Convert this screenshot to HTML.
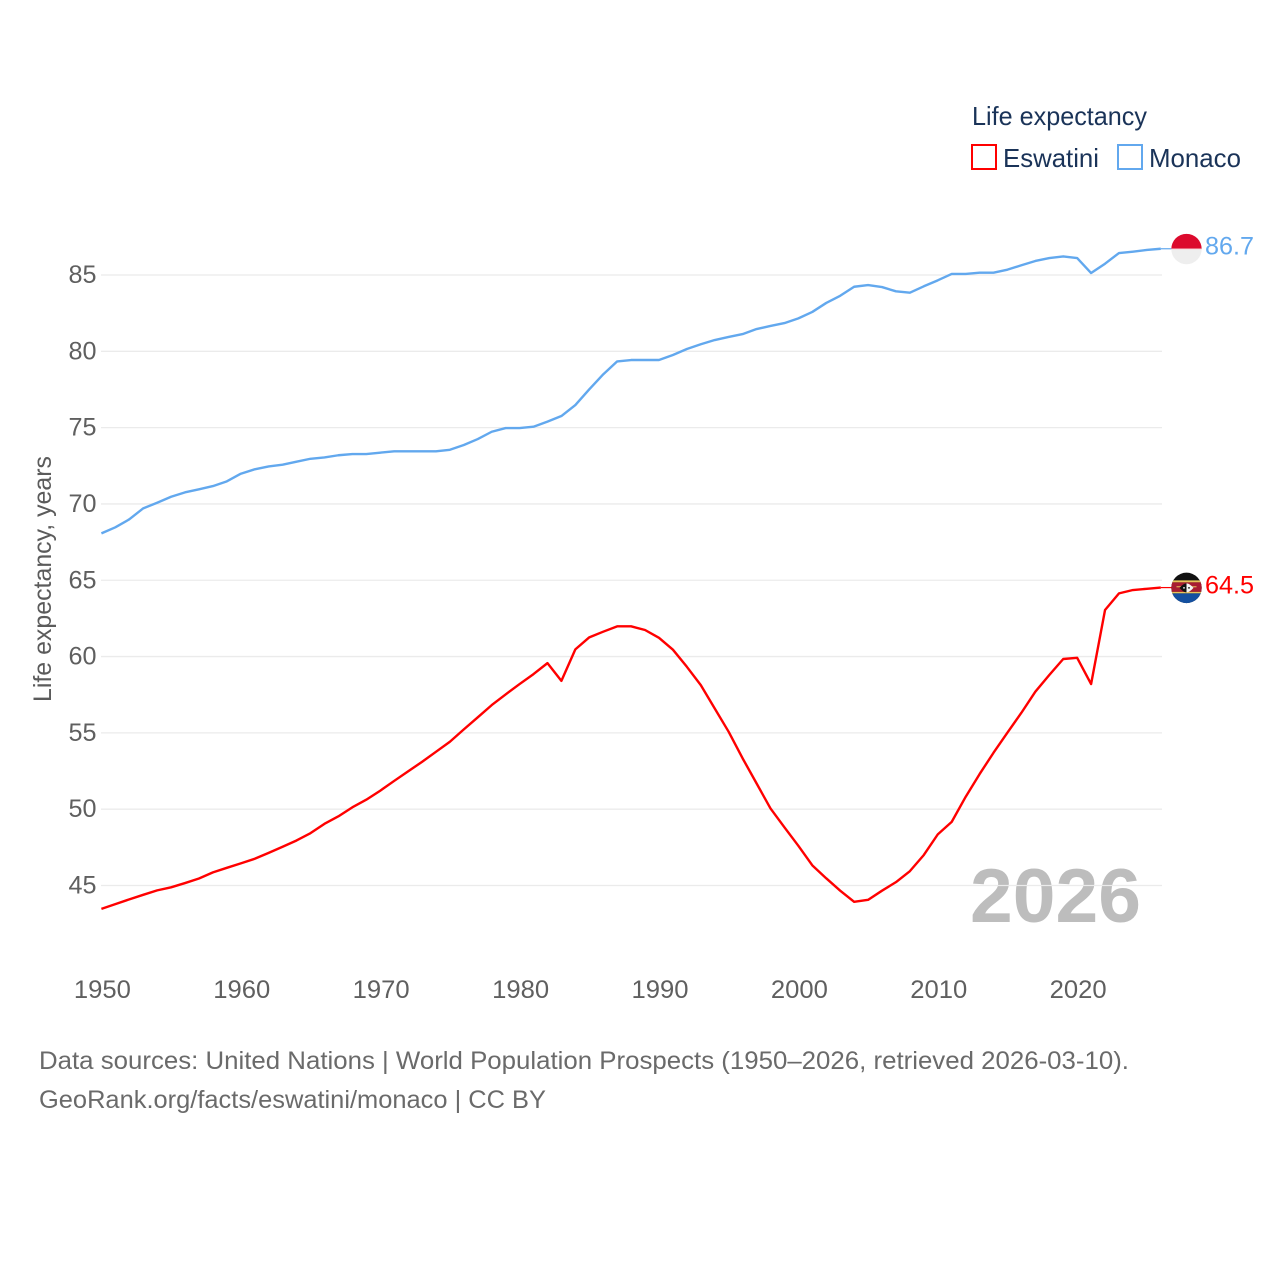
<!DOCTYPE html>
<html lang="en">
<head>
<meta charset="utf-8">
<title>Life expectancy: Eswatini and Monaco</title>
<style>
  html, body { margin: 0; padding: 0; background: #fff; }
  svg { display: block; font-family: "Liberation Sans", sans-serif; }
</style>
</head>
<body>
<svg id="chart" xmlns="http://www.w3.org/2000/svg" width="1280" height="1280" viewBox="0 0 1280 1280">
  <defs>
    <clipPath id="flag-clip"><circle cx="0" cy="0" r="15.2"></circle></clipPath>
  </defs>
  <rect x="0" y="0" width="1280" height="1280" fill="#ffffff"></rect>

  <text x="970" y="922" font-size="76" font-weight="700" fill="#bdbdbd" textLength="171" lengthAdjust="spacingAndGlyphs">2026</text>

  <g id="grid"></g>
  <g id="y-ticks"></g>
  <g id="x-ticks"></g>

  <text transform="translate(51,702) rotate(-90)" font-size="25" fill="#5b5b5b" textLength="246" lengthAdjust="spacingAndGlyphs">Life expectancy, years</text>

  <g id="series"></g>

  <g id="flag-monaco" clip-path="url(#flag-clip)">
    <rect x="-16" y="-16" width="32" height="16" fill="#dc0a2d"></rect>
    <rect x="-16" y="0" width="32" height="16" fill="#eeeeee"></rect>
    <rect x="-16" y="-0.5" width="32" height="1" fill="#f7d9dd"></rect>
  </g>
  <g id="flag-eswatini" clip-path="url(#flag-clip)">
    <rect x="-16" y="-16" width="32" height="32" fill="#111111"></rect>
    <rect x="-16" y="-7.5" width="32" height="2" fill="#e8c458"></rect>
    <rect x="-16" y="-5.5" width="32" height="9.5" fill="#a81c32"></rect>
    <rect x="-16" y="4" width="32" height="1.5" fill="#e8c458"></rect>
    <rect x="-16" y="5.5" width="32" height="11" fill="#1450a0"></rect>
    <rect x="-10" y="-1.6" width="20" height="1" fill="#e8c458"></rect>
    <path d="M-7 0 Q-3 -4.5 0 -4.5 L0 4.5 Q-3 4.5 -7 0 Z" fill="#111111"></path>
    <path d="M7 0 Q3 -4.5 0 -4.5 L0 4.5 Q3 4.5 7 0 Z" fill="#f4f4f4"></path>
    <circle cx="-2.5" cy="0" r="0.9" fill="#f4f4f4"></circle>
    <circle cx="2.5" cy="0" r="0.9" fill="#111111"></circle>
  </g>

  <text id="label-monaco" x="1205" font-size="25" fill="#62a8ee" textLength="49" lengthAdjust="spacingAndGlyphs"></text>
  <text id="label-eswatini" x="1205" font-size="25" fill="#ff0000" textLength="49" lengthAdjust="spacingAndGlyphs"></text>

  <g>
    <text x="972" y="125" font-size="26" fill="#1a3358" textLength="175" lengthAdjust="spacingAndGlyphs">Life expectancy</text>
    <g>
      <rect x="972" y="145" width="24" height="24" fill="#ffffff" stroke="#ff0000" stroke-width="2"></rect>
      <text x="1003" y="167" font-size="26" fill="#1a3358" textLength="96" lengthAdjust="spacingAndGlyphs">Eswatini</text>
    </g>
    <g>
      <rect x="1118" y="145" width="24" height="24" fill="#ffffff" stroke="#62a8ee" stroke-width="2"></rect>
      <text x="1149" y="167" font-size="26" fill="#1a3358" textLength="92" lengthAdjust="spacingAndGlyphs">Monaco</text>
    </g>
  </g>

  <g>
    <text x="39" y="1069" font-size="25" fill="#6a6a6a" textLength="1090" lengthAdjust="spacingAndGlyphs">Data sources: United Nations | World Population Prospects (1950–2026, retrieved 2026-03-10).</text>
    <text x="39" y="1108" font-size="25" fill="#6a6a6a" textLength="507" lengthAdjust="spacingAndGlyphs">GeoRank.org/facts/eswatini/monaco | CC BY</text>
  </g>
</svg>

<script>
const years = [1950,1951,1952,1953,1954,1955,1956,1957,1958,1959,1960,1961,1962,1963,1964,1965,1966,1967,1968,1969,1970,1971,1972,1973,1974,1975,1976,1977,1978,1979,1980,1981,1982,1983,1984,1985,1986,1987,1988,1989,1990,1991,1992,1993,1994,1995,1996,1997,1998,1999,2000,2001,2002,2003,2004,2005,2006,2007,2008,2009,2010,2011,2012,2013,2014,2015,2016,2017,2018,2019,2020,2021,2022,2023,2024,2025,2026];
const monacoValues = [68.07,68.47,68.99,69.71,70.08,70.47,70.76,70.96,71.17,71.48,71.98,72.27,72.46,72.57,72.77,72.96,73.05,73.19,73.27,73.27,73.36,73.45,73.45,73.45,73.45,73.55,73.86,74.25,74.73,74.97,74.97,75.06,75.39,75.76,76.48,77.51,78.49,79.34,79.43,79.43,79.43,79.76,80.15,80.46,80.74,80.94,81.13,81.46,81.66,81.85,82.16,82.58,83.17,83.64,84.23,84.34,84.21,83.93,83.84,84.26,84.65,85.07,85.07,85.15,85.15,85.35,85.64,85.92,86.11,86.22,86.11,85.13,85.74,86.44,86.53,86.64,86.72];
const eswatiniValues = [43.47,43.78,44.09,44.39,44.68,44.88,45.16,45.46,45.86,46.16,46.45,46.75,47.14,47.54,47.95,48.43,49.04,49.53,50.12,50.62,51.21,51.85,52.48,53.10,53.76,54.42,55.23,56.02,56.82,57.52,58.20,58.85,59.57,58.41,60.47,61.26,61.63,61.98,61.98,61.74,61.23,60.45,59.33,58.13,56.60,55.07,53.33,51.69,50.05,48.81,47.60,46.32,45.47,44.66,43.93,44.06,44.66,45.22,45.94,47.00,48.35,49.17,50.81,52.30,53.70,55.02,56.32,57.70,58.79,59.84,59.92,58.20,63.05,64.14,64.36,64.44,64.52];
const yTickLabels = [45,50,55,60,65,70,75,80,85];
const xTickLabels = [1950,1960,1970,1980,1990,2000,2010,2020];

const SVG_NS = 'http://www.w3.org/2000/svg';
function xScale(year) { return 101.4 + (year - 1950) * (1160.8 - 101.4) / (2026 - 1950); }
function yScale(value) { return 885.5 - (value - 45) * (885.5 - 275) / (85 - 45); }
function make(tag, attrs, parent) {
  const el = document.createElementNS(SVG_NS, tag);
  Object.keys(attrs).forEach(function (k) { el.setAttribute(k, attrs[k]); });
  parent.appendChild(el);
  return el;
}

const gridGroup = document.getElementById('grid');
const yTickGroup = document.getElementById('y-ticks');
const xTickGroup = document.getElementById('x-ticks');
const seriesGroup = document.getElementById('series');

yTickLabels.forEach(function (t) {
  const line = make('line', { x1: 101, x2: 1162, y1: yScale(t), y2: yScale(t), stroke: '#ebebeb', 'stroke-width': 1.3 }, gridGroup);
  
  
  const label = make('text', { x: 96.5, y: yScale(t) + 8, 'text-anchor': 'end', 'font-size': 25, fill: '#5f5f5f', textLength: 28, lengthAdjust: 'spacingAndGlyphs' }, yTickGroup);
  
  
  label.textContent = t;
});

xTickLabels.forEach(function (t) {
  const label = make('text', { x: xScale(t) + 1, y: 998, 'text-anchor': 'middle', 'font-size': 25, fill: '#5f5f5f', textLength: 57, lengthAdjust: 'spacingAndGlyphs' }, xTickGroup);
  
  
  label.textContent = t;
});

function drawSeries(values, color, name, flagId, labelId) {
  const pts = values.map(function (v, i) { return xScale(years[i]).toFixed(2) + ',' + yScale(v).toFixed(2); }).join(' ');
  const lastValue = values[values.length - 1];
  const lastX = xScale(years[years.length - 1]);
  const lastY = yScale(lastValue);
  const line = make('polyline', { points: pts, fill: 'none', stroke: color, 'stroke-width': 2.4, 'stroke-linejoin': 'round' }, seriesGroup);
  
  
  const connector = make('line', { x1: lastX, x2: 1172, y1: lastY, y2: lastY, stroke: color, 'stroke-width': 1.2 }, seriesGroup);
  
  
  document.getElementById(flagId).setAttribute('transform', 'translate(1186.5,' + (lastY + 0.3) + ')');
  const label = document.getElementById(labelId);
  label.setAttribute('y', lastY + 6);
  label.textContent = lastValue.toFixed(1);
}

drawSeries(eswatiniValues, '#ff0000', 'eswatini', 'flag-eswatini', 'label-eswatini');
drawSeries(monacoValues, '#62a8ee', 'monaco', 'flag-monaco', 'label-monaco');
</script>
</body>
</html>
